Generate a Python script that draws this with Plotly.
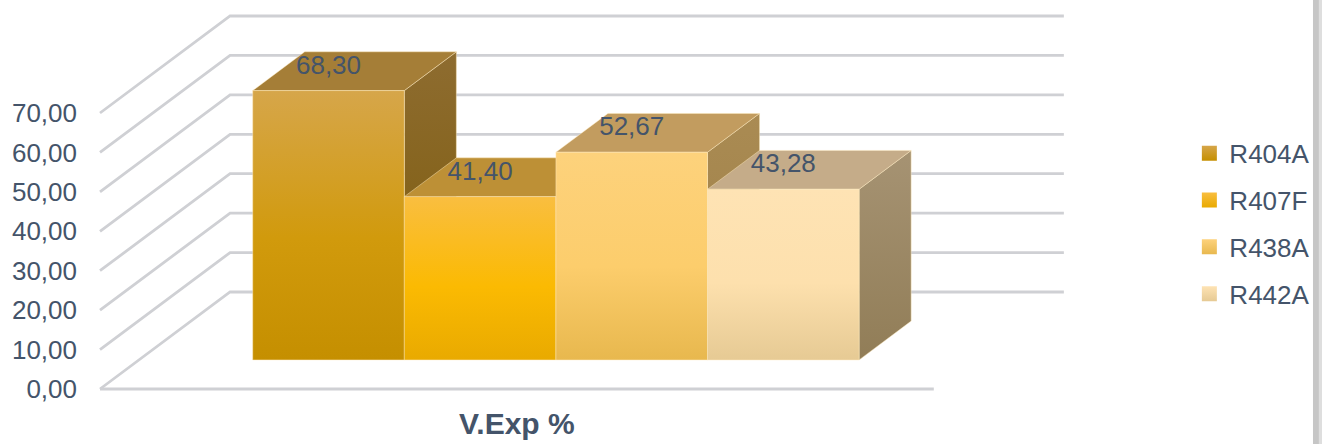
import plotly.graph_objects as go

# ---- data -------------------------------------------------------------
category = "V.Exp %"
series = ["R404A", "R407F", "R438A", "R442A"]
values = [68.30, 41.40, 52.67, 43.28]
tick_values = [0, 10, 20, 30, 40, 50, 60, 70]
tick_labels = ["0,00", "10,00", "20,00", "30,00", "40,00", "50,00", "60,00", "70,00"]

# ---- styling ----------------------------------------------------------
front_bottom = ["#c58f00", "#e9aa00", "#e8b84e", "#e6ca94"]
front_mid = ["#d19a0c", "#fbba02", "#fccd6c", "#fde0ad"]
front_top = ["#d6a64a", "#f9be40", "#fdd27c", "#fee3b4"]
top_face = ["#a57e37", "#bd9036", "#c29c5f", "#c5ac89"]
side_bottom = ["#7b5a06", "#8f6a18", "#9c7e45", "#917d57"]
side_top = ["#8e6c30", "#a07a32", "#aa8b53", "#a69373"]
edge_color = "rgba(255,236,190,0.45)"
text_color = "#44546a"
grid_color = "#cfd0d4"
font_family = "Liberation Sans, Arial, sans-serif"

# ---- 3-D box geometry (axis units) ------------------------------------
BAR_W = 1.0          # width of one bar along x
GAP = 0.75           # empty floor on each side of the bar block
FLOOR_W = GAP * 2 + BAR_W * len(values)
DEPTH_X = 0.858      # x shift of the full floor depth
DEPTH_Y = 24.6       # y shift of the full floor depth (value units)
Z_FRONT, Z_BACK = 0.3, 0.7   # depth slice occupied by the bars


def proj(x, v, z):
    """Oblique projection of (x, value, depth) onto the 2-D axes."""
    return x + z * DEPTH_X, v + z * DEPTH_Y


def face(points, **kw):
    xs, ys = zip(*[proj(*p) for p in points])
    xs = list(xs) + [xs[0]]
    ys = list(ys) + [ys[0]]
    return go.Scatter(x=xs, y=ys, mode="lines", fill="toself",
                      line=dict(color=edge_color, width=1),
                      hoverinfo="skip", showlegend=False, **kw)


fig = go.Figure()

# walls: left-side gridlines running back, then along the back wall
gx, gy = [], []
for v in tick_values:
    for p in [(0, v, 0), (0, v, 1), (FLOOR_W, v, 1)]:
        x, y = proj(*p)
        gx.append(x)
        gy.append(y)
    gx.append(None)
    gy.append(None)
# front edge of the floor
for p in [(0, 0, 0), (FLOOR_W, 0, 0)]:
    x, y = proj(*p)
    gx.append(x)
    gy.append(y)
fig.add_trace(go.Scatter(x=gx, y=gy, mode="lines",
                         line=dict(color=grid_color, width=2.8),
                         hoverinfo="skip", showlegend=False))

# bars, painted left to right so nearer faces overlap correctly
for i, h in enumerate(values):
    L = GAP + i * BAR_W
    R = L + BAR_W
    fig.add_trace(face([(R, 0, Z_FRONT), (R, h, Z_FRONT), (R, h, Z_BACK), (R, 0, Z_BACK)],
                       fillgradient=dict(type="vertical",
                                         colorscale=[[0, side_bottom[i]], [1, side_top[i]]])))
    fig.add_trace(face([(L, h, Z_FRONT), (R, h, Z_FRONT), (R, h, Z_BACK), (L, h, Z_BACK)],
                       fillcolor=top_face[i]))
    fig.add_trace(face([(L, 0, Z_FRONT), (R, 0, Z_FRONT), (R, h, Z_FRONT), (L, h, Z_FRONT)],
                       fillgradient=dict(type="vertical",
                                         colorscale=[[0, front_bottom[i]], [0.45, front_mid[i]],
                                                     [1, front_top[i]]])))

# value labels sitting on the top faces
lx, ly = [], []
for i, h in enumerate(values):
    cx = GAP + (i + 0.5) * BAR_W
    x, _ = proj(cx, h, Z_FRONT)
    _, y = proj(cx, h, Z_FRONT + 0.6 * (Z_BACK - Z_FRONT))
    lx.append(x)
    ly.append(y)
fig.add_trace(go.Scatter(x=lx, y=ly, mode="text",
                         text=[f"{v:.2f}".replace(".", ",") for v in values],
                         textfont=dict(size=26, color=text_color, family=font_family),
                         cliponaxis=False, hoverinfo="skip", showlegend=False))

# legend entries
for i, name in enumerate(series):
    fig.add_trace(go.Scatter(x=[None], y=[None], mode="markers", name=name,
                             legendgroup=name,
                             marker=dict(symbol="square", size=15, color=front_top[i],
                                         line=dict(width=0),
                                         gradient=dict(type="vertical", color=front_bottom[i]))))

fig.update_layout(
    width=1322, height=444,
    margin=dict(l=94, r=250, t=5, b=44),
    paper_bgcolor="white", plot_bgcolor="white",
    font=dict(family=font_family, color=text_color, size=26),
    showlegend=True,
    legend=dict(x=1.12, y=0.446, xanchor="left", yanchor="middle",
                traceorder="grouped", tracegroupgap=10,
                font=dict(size=26, color=text_color), itemwidth=30,
                bgcolor="rgba(0,0,0,0)"),
    xaxis=dict(range=[-0.0396, 6.4116], showgrid=False, zeroline=False, showline=False,
               ticks="", tickvals=[FLOOR_W / 2], ticktext=[f"<b>{category}</b>"],
               tickfont=dict(size=30, color=text_color), ticklabelstandoff=3,
               automargin=False, fixedrange=True),
    yaxis=dict(range=[-2.79, 97.39], showgrid=False, zeroline=False, showline=False,
               ticks="", tickvals=tick_values, ticktext=tick_labels,
               tickfont=dict(size=26, color=text_color), ticklabelstandoff=16,
               automargin=False, fixedrange=True),
    shapes=[
        dict(type="rect", xref="paper", yref="paper", x0=1.2464, x1=1.2525,
             y0=-0.12, y1=1.02, fillcolor="#c6c6c6", line=dict(width=0), layer="above"),
        dict(type="rect", xref="paper", yref="paper", x0=1.2525, x1=1.2565,
             y0=-0.12, y1=1.02, fillcolor="#dedede", line=dict(width=0), layer="above"),
    ],
)

fig.write_html("out.html")
